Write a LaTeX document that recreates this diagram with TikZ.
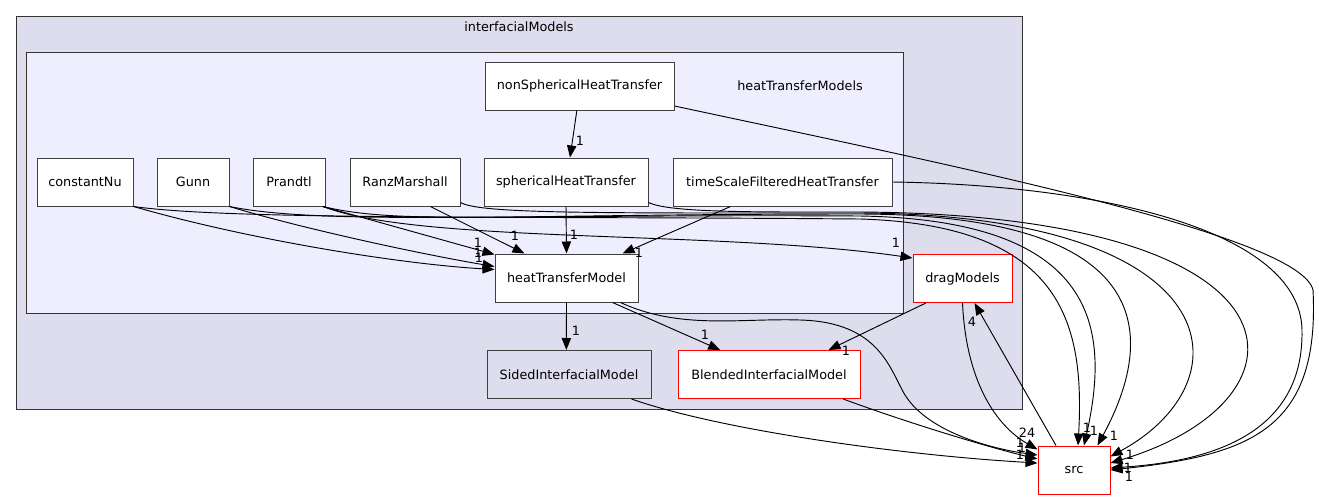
\documentclass[tikz,border=0pt]{standalone}
\usepackage{fontspec}
\setmainfont{DejaVu Sans}
\usepackage{xcolor}
\usepackage{tikz}
\usetikzlibrary{arrows.meta,positioning}
\definecolor{outerfill}{HTML}{DDDDEE}
\definecolor{innerfill}{HTML}{EEEEFF}
\newcommand{\dirfont}{\fontsize{9.6}{11}\selectfont}
\tikzset{
  dirnode/.style={draw=black!75,fill=white,line width=0.75pt,minimum height=36pt,inner sep=0pt,font=\dirfont},
  reddir/.style={dirnode,draw=red},
  greydir/.style={dirnode,fill=outerfill},
  clust/.style={draw=black!80,line width=0.75pt},
  arr/.style={-{Triangle[length=9pt,width=7pt]},line width=0.7pt},
  lbl/.style={font=\dirfont,inner sep=0pt},
}

\begin{document}
\begin{tikzpicture}[x=0.75pt,y=-0.75pt]
\useasboundingbox (0,0) rectangle (1319,500);
% clusters
\draw[clust,fill=outerfill] (16,16) rectangle (1022,409);
\node[lbl] (outlbl) at (519,27) {interfacialModels};
\draw[clust,fill=innerfill] (26,52) rectangle (903,313);
\node[lbl] (inlbl) at (800,86) {heatTransferModels};
% directories
\node[dirnode,minimum width=141.75pt] (nsph) at (579.5,86) {nonSphericalHeatTransfer};
\node[dirnode,minimum width=72pt] (cnu) at (85,182) {constantNu};
\node[dirnode,minimum width=54pt] (gunn) at (193,182) {Gunn};
\node[dirnode,minimum width=54pt] (prandtl) at (289,182) {Prandtl};
\node[dirnode,minimum width=82.5pt] (ranz) at (405,182) {RanzMarshall};
\node[dirnode,minimum width=123pt] (sph) at (566,182) {sphericalHeatTransfer};
\node[dirnode,minimum width=164.25pt] (ts) at (782.5,182) {timeScaleFilteredHeatTransfer};
\node[dirnode,minimum width=107.25pt] (htm) at (566.5,278) {heatTransferModel};
\node[reddir,minimum width=74.25pt] (drag) at (962.5,278.5) {dragModels};
\node[greydir,minimum width=123pt] (sided) at (569,374.5) {SidedInterfacialModel};
\node[reddir,minimum width=136.5pt] (blend) at (769,374.5) {BlendedInterfacialModel};
\node[reddir,minimum width=54pt] (src) at (1074,470) {src};
% inside heatTransferModels
\draw[arr] ([xshift=-2pt]nsph.south) -- ([xshift=3pt]sph.north);
\draw[arr] (cnu.south east) .. controls (250,240) and (400,264) .. ([yshift=-12pt]htm.north west);
\draw[arr] (gunn.south east) .. controls (300,228) and (420,254) .. ([yshift=-9.75pt]htm.north west);
\draw[arr] ([xshift=-2pt]prandtl.south east) -- ([yshift=-0.75pt]htm.north west);
\draw[arr] ([xshift=19pt]ranz.south) -- ([xshift=22.5pt]htm.north west);
\draw[arr] (sph.south) -- (htm.north);
\draw[arr] ([xshift=-39pt]ts.south) -- ([xshift=-12pt]htm.north east);
\draw[arr] ([xshift=-2pt]prandtl.south east) .. controls (420,244) and (720,230) .. ([yshift=-3pt]drag.north west);
% out of the cluster
\draw[arr] (htm.south) -- ([xshift=-2pt]sided.north);
\draw[arr] ([xshift=-19.5pt]htm.south east) -- ([xshift=32pt]blend.north west);
\draw[arr] ([xshift=10pt]drag.south west) -- ([xshift=-24pt]blend.north east);
% into src
\draw[arr] (cnu.south east) .. controls (230,220) and (500,216) .. (860,219) .. controls (1060,225) and (1085,320) .. ([xshift=3pt]src.north);
\draw[arr] (gunn.south east) .. controls (320,225) and (500,214) .. (860,216) .. controls (1100,220) and (1110,330) .. ([xshift=7.5pt]src.north);
\draw[arr] ([xshift=-2pt]prandtl.south east) .. controls (400,225) and (500,214) .. (860,214) .. controls (1150,215) and (1160,330) .. ([xshift=-9.75pt]src.north east);
\draw[arr] ([yshift=3pt]ranz.south east) .. controls (480,214) and (600,213) .. (860,213) .. controls (1230,215) and (1250,380) .. ([yshift=-8.25pt]src.north east);
\draw[arr] ([yshift=3pt]sph.south east) .. controls (670,213) and (760,212) .. (860,212) .. controls (1320,215) and (1320,400) .. ([yshift=5.25pt]src.east);
\draw[arr] (ts.east) .. controls (1100,185) and (1300,230) .. (1302,330) .. controls (1304,440) and (1200,462) .. ([yshift=1.5pt]src.east);
\draw[arr] ([yshift=-15pt]nsph.east) .. controls (950,165) and (1300,235) .. (1313,290) .. controls (1320,430) and (1250,455) .. (src.east);
\draw[arr] ([xshift=-13.5pt]htm.south east) .. controls (680,330) and (740,318) .. (800,320) .. controls (880,322) and (890,370) .. (905,395) .. controls (930,435) and (1000,450) .. ([yshift=11.25pt]src.west);
\draw[arr] (drag.south) .. controls (966,380) and (995,425) .. ([yshift=-3pt]src.north west);
\draw[arr] ([xshift=-13.5pt]src.north) -- ([xshift=9pt]drag.south);
\draw[arr] ([xshift=-15pt]sided.south east) .. controls (720,430) and (900,455) .. ([yshift=5.25pt]src.west);
\draw[arr] ([xshift=-13pt]blend.south east) .. controls (900,420) and (980,445) .. ([yshift=8.25pt]src.west);
% edge counts
\node[lbl] (n1) at (580,141) {1};
\node[lbl] (n2) at (478,243) {1};
\node[lbl] (n3) at (478,253) {1};
\node[lbl] (n4) at (479,258) {1};
\node[lbl] (n5) at (515,236) {1};
\node[lbl] (n6) at (574,235) {1};
\node[lbl] (n7) at (639,253) {1};
\node[lbl] (n8) at (896,243) {1};
\node[lbl] (n9) at (576,331) {1};
\node[lbl] (n10) at (705,335) {1};
\node[lbl] (n11) at (846,351) {1};
\node[lbl] (n12) at (972,322) {4};
\node[lbl] (n13) at (1027,433) {24};
\node[lbl] (n14) at (1020,443) {1};
\node[lbl] (n15) at (1022,448) {1};
\node[lbl] (n16) at (1020,455) {1};
\node[lbl] (n17) at (1087,428) {1};
\node[lbl] (n18) at (1094,431) {1};
\node[lbl] (n19) at (1114,436) {1};
\node[lbl] (n20) at (1130,455) {1};
\node[lbl] (n21) at (1128,468) {1};
\node[lbl] (n22) at (1129,477) {1};
\end{tikzpicture}
\end{document}
